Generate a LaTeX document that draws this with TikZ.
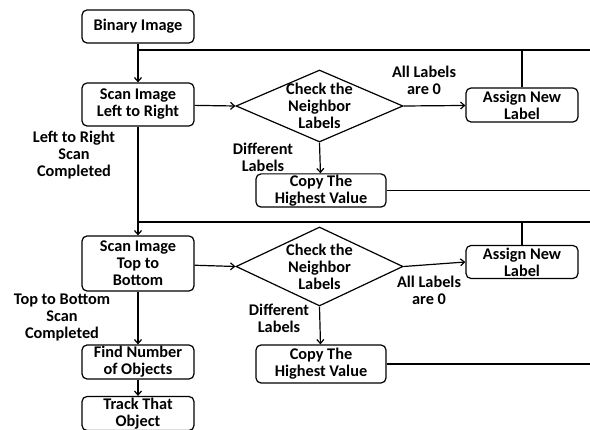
\documentclass[tikz,border=0pt]{standalone}
\usepackage{fontspec}
\setmainfont{Carlito}
\usetikzlibrary{arrows.meta,
    shapes.geometric,
    positioning}

\tikzset{
    stepbox/.style={draw, rectangle, rounded corners=5pt, line width=1.2pt,
        minimum width=112pt, align=center, inner sep=1pt,
        font=\bfseries\fontsize{16.3}{17}\selectfont},
    decide/.style={draw, diamond, line width=1.2pt, inner sep=-16pt,
        minimum width=167pt, align=center,
        font=\bfseries\fontsize{16.3}{17}\selectfont},
    note/.style={align=center, inner sep=0pt,
        font=\bfseries\fontsize{16.3}{17}\selectfont},
    flow/.style={line width=1.2pt, -{Straight Barb[length=4pt,width=7pt]}},
    wire/.style={line width=1.2pt}
}

\begin{document}
\begin{tikzpicture}[x=1pt, y=-1pt]
                  \useasboundingbox (0,0) rectangle (590,430);
                  \begin{scope}
                  \clip (0,0) rectangle (590,430);
                  % first pass
                  \node[stepbox, minimum height=33pt] (binary) at (138,26.5) {Binary Image};
                  \node[stepbox, minimum height=43pt] (scanlr) at (138,104.5) {Scan Image\\Left to Right};
                  \node[decide, minimum height=72pt] (check1) at (319.5,106) {Check the\\Neighbor\\Labels};
                  \node[stepbox, minimum height=34pt] (assign1) at (522,105) {Assign New\\Label};
                  \node[stepbox, minimum width=130pt, minimum height=33pt] (copy1) at (321,190.5) {Copy The\\Highest Value};
                  \coordinate (loop1) at (138,50);
                  \coordinate (edge1) at (590,50);
                  % second pass
                  \node[stepbox, minimum height=55pt] (scantb) at (138,263.5) {Scan Image\\Top to\\Bottom};
                  \node[decide, minimum height=79pt] (check2) at (319.5,266.5) {Check the\\Neighbor\\Labels};
                  \node[stepbox, minimum height=33pt] (assign2) at (522,262) {Assign New\\Label};
                  \node[stepbox, minimum width=130pt, minimum height=38pt] (copy2) at (321,364) {Copy The\\Highest Value};
                  \coordinate (loop2) at (138,222);
                  \coordinate (edge2) at (590,222);
                  \node[stepbox, minimum height=34pt] (count) at (138,362) {Find Number\\of Objects};
                  \node[stepbox, minimum height=34pt] (track) at (138,413.5) {Track That\\Object};
                  % texts
                  \node[note] (zero1) at (424,80.5) {All Labels\\are 0};
                  \node[note] (diff1) at (263,157) {Different\\Labels};
                  \node[note] (done1) at (74,155.5) {Left to Right\\Scan\\Completed};
                  \node[note] (zero2) at (429,290) {All Labels\\are 0};
                  \node[note] (diff2) at (279,318) {Different\\Labels};
                  \node[note] (done2) at (62,317.5) {Top to Bottom\\Scan\\Completed};
                  % connectors
                  \draw[flow] (binary) -- (scanlr);
                  \draw[wire] (loop1) -- (edge1);
                  \draw[flow] (scanlr) -- (check1.west);
                  \draw[flow] (check1.east) -- (assign1);
                  \draw[wire] (assign1) -- (assign1 |- loop1);
                  \draw[flow] (check1.south) -- (copy1);
                  \draw[wire] (copy1) -- (copy1 -| edge1);
                  \draw[flow] (scanlr) -- (scantb);
                  \draw[wire] (loop2) -- (edge2);
                  \draw[flow] (scantb) -- (check2.west);
                  \draw[flow] (check2.east) -- (assign2.west);
                  \draw[wire] (assign2) -- (assign2 |- loop2);
                  \draw[flow] (check2.south) -- (copy2);
                  \draw[wire] (copy2) -- (copy2 -| edge2);
                  \draw[flow] (scantb) -- (count);
                  \draw[flow] (count) -- (track);
                  \end{scope}
              \end{tikzpicture}
\end{document}
